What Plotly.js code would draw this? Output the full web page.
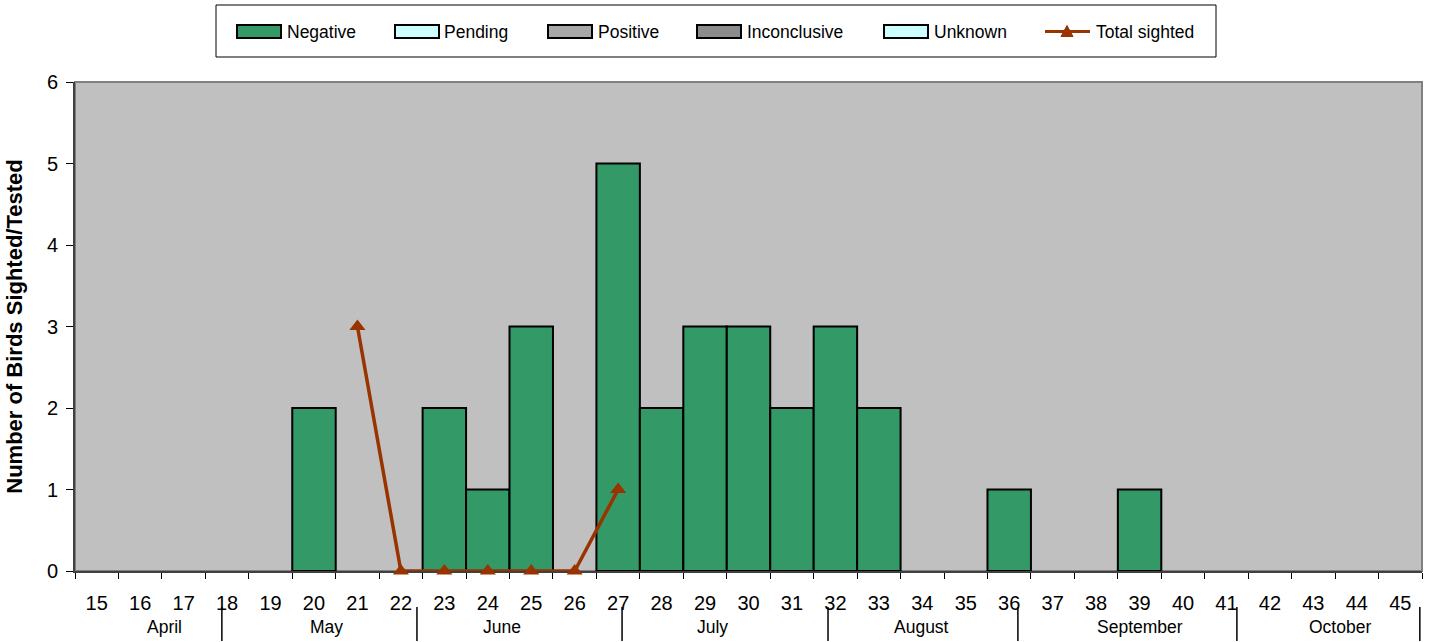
<!DOCTYPE html>
<html>
<head>
<meta charset="utf-8">
<script src="https://cdn.plot.ly/plotly-3.0.1.min.js"></script>
<style>html,body{margin:0;padding:0;background:#fff;}#chart{width:1431px;height:642px;}</style>
</head>
<body>
<div id="chart"></div>
<script>
// ---- data ----
const weeks = ['15','16','17','18','19','20','21','22','23','24','25','26','27','28','29','30','31','32','33','34','35','36','37','38','39','40','41','42','43','44','45'];
const negative = [null,null,null,null,null,2,null,null,2,1,3,null,5,2,3,3,2,3,2,null,null,1,null,null,1,null,null,null,null,null,null];
const pending = [];
const positive = [];
const inconclusive = [];
const unknown = [];
const sightedWeeks = ['21','22','23','24','25','26','27'];
const totalSighted = [3,0,0,0,0,0,1];
const months = ['April','May','June','July','August','September','October'];
const monthCenters = [16.57,20.28,24.33,29.16,33.99,39.01,43.61];
const monthBounds = [17.88,22.37,27.09,31.83,36.20,41.24,45.45];
const legendNames = ['Negative','Pending','Positive','Inconclusive','Unknown','Total sighted'];

// ---- geometry helpers (pixel -> paper) ----
const L = 75, R = 1422, T = 82, B = 571;
const px = x => (x - L) / (R - L);
const py = y => (B - y) / (B - T);
const FONT = 'Liberation Sans, Arial, sans-serif';

const traces = [
  {type:'bar', name:'Negative', x:weeks, y:negative, marker:{color:'#339966', line:{color:'#000', width:2}}, showlegend:false, hoverinfo:'x+y'},
  {type:'bar', name:'Pending', x:weeks.slice(0,pending.length), y:pending, marker:{color:'#CCFFFF', line:{color:'#000', width:2}}, showlegend:false},
  {type:'bar', name:'Positive', x:weeks.slice(0,positive.length), y:positive, marker:{color:'#A0A0A0', line:{color:'#000', width:2}}, showlegend:false},
  {type:'bar', name:'Inconclusive', x:weeks.slice(0,inconclusive.length), y:inconclusive, marker:{color:'#808080', line:{color:'#000', width:2}}, showlegend:false},
  {type:'bar', name:'Unknown', x:weeks.slice(0,unknown.length), y:unknown, marker:{color:'#CCFFFF', line:{color:'#000', width:2}}, showlegend:false},
  {type:'scatter', mode:'lines+markers', name:'Total sighted', x:sightedWeeks, y:totalSighted,
   line:{color:'#993300', width:3.5}, marker:{symbol:'triangle-up', size:14, color:'#993300'}, cliponaxis:false, showlegend:false}
];

const shapes = [];
const annotations = [];

// plot border (gray top/right)
shapes.push({type:'rect', xref:'paper', yref:'paper', x0:0, x1:1, y0:0, y1:1, line:{color:'#808080', width:2}, fillcolor:'rgba(0,0,0,0)', layer:'below'});

// month separators and labels
monthBounds.forEach(b => {
  shapes.push({type:'line', xref:'x', yref:'paper', x0:b-15, x1:b-15, y0:py(607), y1:py(641), line:{color:'#000', width:1.5}});
});
months.forEach((m,i) => {
  annotations.push({text:m, xref:'x', yref:'paper', x:monthCenters[i]-15, y:py(627), showarrow:false, xanchor:'center', yanchor:'middle', font:{family:FONT, size:17.5, color:'#000'}});
});

// custom legend
shapes.push({type:'rect', xref:'paper', yref:'paper', x0:px(216), x1:px(1216), y0:py(5), y1:py(57), line:{color:'#000', width:1}, fillcolor:'#fff'});
const swatchX = [237, 395, 548, 697, 884];
const swatchFill = ['#339966','#CCFFFF','#A8A8A8','#8C8C8C','#CCFFFF'];
const textX = [285, 442, 596, 745, 932, 1094];
for (let i = 0; i < 5; i++) {
  shapes.push({type:'rect', xref:'paper', yref:'paper', x0:px(swatchX[i]), x1:px(swatchX[i]+44), y0:py(25), y1:py(38), line:{color:'#000', width:2}, fillcolor:swatchFill[i]});
}
shapes.push({type:'line', xref:'paper', yref:'paper', x0:px(1045), x1:px(1090), y0:py(31.5), y1:py(31.5), line:{color:'#993300', width:3}});
shapes.push({type:'path', xref:'paper', yref:'paper', path:`M ${px(1061)} ${py(36.5)} L ${px(1073)} ${py(36.5)} L ${px(1067)} ${py(25.5)} Z`, line:{color:'#993300', width:1}, fillcolor:'#993300'});
legendNames.forEach((n,i) => {
  annotations.push({text:n, xref:'paper', yref:'paper', x:px(textX[i]), y:py(31.5), showarrow:false, xanchor:'left', yanchor:'middle', font:{family:FONT, size:17.5, color:'#000'}});
});

const layout = {
  width:1431, height:642,
  margin:{l:L, r:1431-R, t:T, b:642-B, pad:0},
  paper_bgcolor:'#fff', plot_bgcolor:'#C0C0C0',
  barmode:'stack', bargap:0,
  showlegend:false,
  font:{family:FONT, size:18, color:'#000'},
  xaxis:{type:'category', categoryorder:'array', categoryarray:weeks, tickvals:weeks, ticktext:weeks,
         range:[-0.5, weeks.length-0.5], tickson:'boundaries', ticks:'outside', ticklen:6, tickwidth:1, tickcolor:'#000',
         showline:true, linecolor:'#404040', linewidth:2, showgrid:false, zeroline:false, layer:'below traces',
         ticklabelstandoff:13, tickfont:{family:FONT, size:20, color:'#000'}, fixedrange:true},
  yaxis:{range:[0,6], dtick:1, tick0:0, ticks:'outside', ticklen:7, tickwidth:1, tickcolor:'#000',
         showline:true, linecolor:'#404040', linewidth:2, showgrid:false, zeroline:false, layer:'below traces',
         ticklabelstandoff:4, tickfont:{family:FONT, size:20, color:'#000'},
         title:{text:'<b>Number of Birds Sighted/Tested</b>', font:{family:FONT, size:22, color:'#000'}, standoff:18}, fixedrange:true},
  shapes:shapes, annotations:annotations
};

Plotly.newPlot('chart', traces, layout, {displayModeBar:false, staticPlot:true});
</script>
</body>
</html>
